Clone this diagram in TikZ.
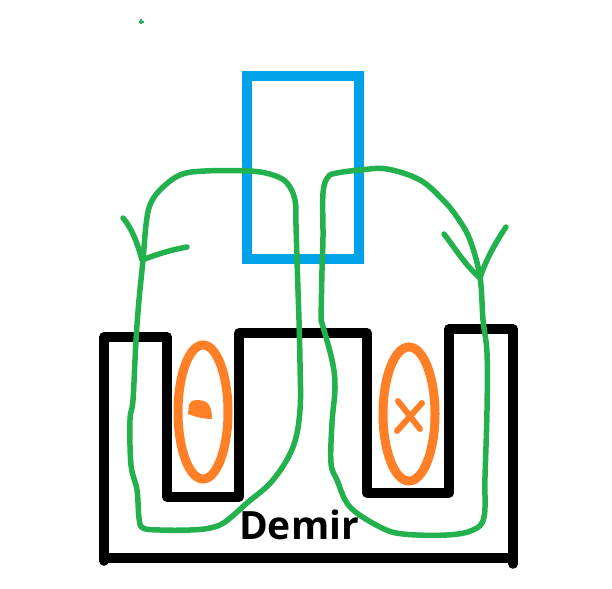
\documentclass[tikz,border=0pt]{standalone}
\usepackage{fontspec}
\setmainfont{Open Sans}
\definecolor{pgreen}{HTML}{22B14C}
\definecolor{porange}{HTML}{FF7F27}
\definecolor{pblue}{HTML}{00A2E8}
\tikzset{
  core/.style={draw=black,line width=9.5pt,line join=round,line cap=round},
  gap/.style={draw=pblue,line width=10pt,line join=miter},
  coil/.style={draw=porange,line width=9pt},
  coilmark/.style={draw=porange,line width=6pt,line cap=round},
  flux/.style={draw=pgreen,line width=5.5pt,line join=round,line cap=round},
}
\begin{document}
\begin{tikzpicture}[x=1pt,y=-1pt]
\useasboundingbox (0,0) rectangle (612,588);
\fill[white] (0,0) rectangle (612,588);
% iron core
\draw[core] (104,561) -- (104,337) -- (167,337) -- (167,497) -- (239,497) -- (239,333)
  -- (367,333) -- (367,493) -- (449,493) -- (449,329) -- (513,329) -- (513,564);
\draw[core] (104,558) -- (513,558);
% air-gap rectangle
\draw[gap] (247,76) rectangle (359,259);
% coils
\draw[coil] (203,412) ellipse [x radius=25,y radius=67];
\draw[coil] (409,414) ellipse [x radius=26,y radius=67];
\fill[porange] (189,405) .. controls (190,399) and (200,399) .. (206,402)
  .. controls (211,405) and (212,412) .. (212,419)
  .. controls (205,419) and (195,417) .. (188,414) -- cycle;
\draw[coilmark] (398,401) -- (420,429);
\draw[coilmark] (422,403) -- (397,431);
% label
\node[inner sep=0pt,anchor=center,font=\fontsize{39}{39}\selectfont\bfseries] (lbl) at (299,525) {Demir};
% flux paths
\draw[flux] plot[smooth,tension=0.6] coordinates {
  (299,320) (297,260) (296,225) (295,200) (287,183) (273,175) (250,171) (205,171)
  (180,175) (160,190) (150,205) (146,225) (143,260) (139,300) (136,340) (133,400)
  (130,420) (131,465) (137,490) (139,518) (143,528) (160,530) (190,530) (210,528)
  (225,522) (247,503) (273,480) (293,447) (300,410) (300,363) (299,320)};
\draw[flux] plot[smooth,tension=0.6] coordinates {
  (321,320) (322,270) (323,237) (323,193) (328,177) (337,173) (360,170) (387,169) (420,180)
  (443,200) (457,217) (470,240) (480,277) (483,320) (487,353) (487,410) (485,477) (484,517)
  (473,530) (447,535) (403,534) (380,527) (350,507) (337,480) (331,463) (332,423)
  (335,387) (332,360) (321,320)};
% arrow heads
\draw[flux] (123,218) .. controls (132,228) and (138,245) .. (142,260) .. controls (155,255) and (170,250) .. (187,247);
\draw[flux] (444,234) .. controls (455,248) and (465,265) .. (480,278) .. controls (485,262) and (495,243) .. (506,227);
% speck
\draw[pgreen,line width=2pt] (138.5,22) -- (143.5,22) (141,19.5) -- (141,24.5);
\end{tikzpicture}
\end{document}
